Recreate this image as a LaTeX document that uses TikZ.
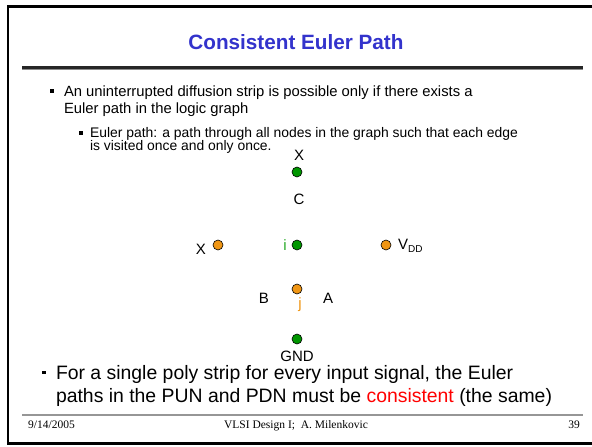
\documentclass[tikz,border=0pt]{standalone}
\usepackage{fontspec}
\setmainfont{Liberation Sans}
\newfontfamily\timesf{Liberation Serif}
\definecolor{titleblue}{RGB}{51,51,204}
\definecolor{dgreen}{RGB}{0,150,0}
\definecolor{lgreen}{RGB}{40,170,40}
\definecolor{dorange}{RGB}{240,150,20}
\definecolor{fgray}{RGB}{150,150,150}
\begin{document}
\begin{tikzpicture}[x=1pt,y=-1pt,
  txt/.style={anchor=base west, inner sep=0pt, outer sep=0pt},
  fa/.style={font=\fontsize{14.8}{18}\selectfont},
  fb/.style={font=\fontsize{13.9}{16}\selectfont},
  fc/.style={font=\fontsize{19.4}{23}\selectfont},
  lbl/.style={inner sep=0pt, font=\fontsize{15}{18}\selectfont},
  gdot/.style={circle, draw=black, line width=0.6pt, fill=dgreen, minimum size=10pt, inner sep=0pt},
  odot/.style={circle, draw=black, line width=0.6pt, fill=dorange, minimum size=10pt, inner sep=0pt},
  bsq/.style={fill=black, minimum size=3.2pt, inner sep=0pt},
  foot/.style={inner sep=0pt, anchor=base, font=\timesf\fontsize{11.5}{13}\selectfont}]
\useasboundingbox (0,0) rectangle (592,447);
\fill[white] (0,0) rectangle (592,447);
% frame
\draw[line width=2.6pt] (593,6.5) -- (8,6.5) -- (8,443.5) -- (593,443.5);
% title
\node[inner sep=0pt, anchor=base, text=titleblue, font=\bfseries\fontsize{20.7}{25}\selectfont] (title) at (296,49) {Consistent Euler Path};
\coordinate (sepL) at (22,67.5);
\coordinate (sepR) at (583,67.5);
\draw[line width=3.2pt, black!85] (sepL) -- (sepR);
\draw[line width=0.8pt, black!45] ([yshift=-2pt]sepL) -- ([yshift=-2pt]sepR);
% bullet 1
\node[bsq] (b1) at (52,91) {};
\node[txt, fa] (t1a) at (64,96.5) {An uninterrupted diffusion strip is possible only if there exists a};
\node[txt, fa] (t1b) at (64,113.5) {Euler path in the logic graph};
\node[bsq] (b2) at (81,133) {};
\node[txt, fb] (t2a) at (90,137.5) {Euler path: a path through all nodes in the graph such that each edge};
\node[txt, fb] (t2b) at (90,150) {is visited once and only once.};
% diagram
\node[lbl] (Xt) at (299,155) {X};
\node[gdot] (g1) at (297,172) {};
\node[lbl] (C) at (299,199) {C};
\node[lbl] (Xl) at (201,249) {X};
\node[odot] (o1) at (218,245) {};
\node[lbl, text=lgreen] (il) at (285,245) {i};
\node[gdot] (g2) at (297,245) {};
\node[odot] (o2) at (386,245) {};
\node[lbl, anchor=west] (vdd) at (398,246) {V\raisebox{-0.35ex}{\fontsize{10}{12}\selectfont DD}};
\node[lbl] (B) at (264,298) {B};
\node[odot] (o3) at (297,289) {};
\node[lbl, text=dorange] (jl) at (300,305) {j};
\node[lbl] (A) at (328,298) {A};
\node[gdot] (g3) at (297,339) {};
\node[lbl] (GND) at (297,356) {GND};
% bottom bullet
\node[bsq] (b3) at (44,372.5) {};
\node[txt, fc] (t3a) at (56,379) {For a single poly strip for every input signal, the Euler};
\node[txt, fc] (t3b) at (56,402) {paths in the PUN and PDN must be \textcolor{red}{consistent} (the same)};
% footer
\coordinate (fL) at (22,415);
\coordinate (fR) at (583,415);
\draw[line width=1.5pt, fgray] (fL) -- (fR);
\node[foot, anchor=base west] (date) at (28,428.5) {9/14/2005};
\node[foot] (ftitle) at (296,428.5) {VLSI Design I;\ \ A. Milenkovic};
\node[foot, anchor=base east] (page) at (580,428.5) {39};
\end{tikzpicture}
\end{document}
